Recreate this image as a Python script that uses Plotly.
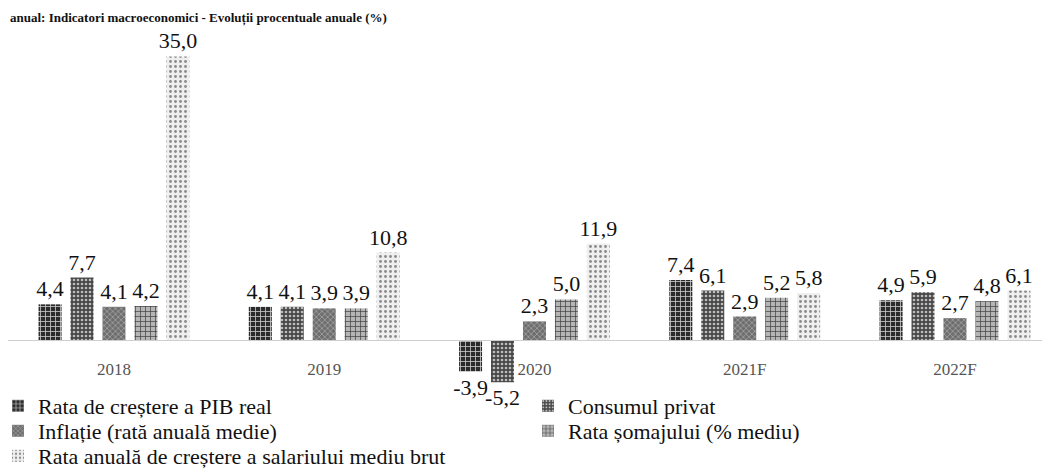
import plotly.graph_objects as go

years = ["2018", "2019", "2020", "2021F", "2022F"]
series_names = [
    "Rata de creștere a PIB real",
    "Consumul privat",
    "Inflație (rată anuală medie)",
    "Rata șomajului (% mediu)",
    "Rata anuală de creștere a salariului mediu brut",
]
pib = [4.4, 4.1, -3.9, 7.4, 4.9]
consum = [7.7, 4.1, -5.2, 6.1, 5.9]
inflatie = [4.1, 3.9, 2.3, 2.9, 2.7]
somaj = [4.2, 3.9, 5.0, 5.2, 4.8]
salariu = [35.0, 10.8, 11.9, 5.8, 6.1]
title_text = "anual: Indicatori macroeconomici - Evoluții procentuale anuale (%)"

all_series = [pib, consum, inflatie, somaj, salariu]
legend_ids = ["legend", "legend2", "legend3", "legend4", "legend5"]
styles = [
    dict(bg="#2b2b2b", fg="#c8c8c8", shape="+", size=5, solidity=0.3),
    dict(bg="#474747", fg="#bdbdbd", shape=".", size=4, solidity=0.35),
    dict(bg="#6e6e6e", fg="#b0b0b0", shape="x", size=4, solidity=0.3),
    dict(bg="#b5b5b5", fg="#3c3c3c", shape="+", size=5, solidity=0.25),
    dict(bg="#efefef", fg="#8a8a8a", shape=".", size=5, solidity=0.25),
]

def fmt(v):
    return f"{v:.1f}".replace(".", ",")

serif = "Liberation Serif, Times New Roman, serif"

W, H = 1042, 462
T, B = 46, 84
plot_h = H - T - B
zero_px = 332

ymax = 35.3
px_per_unit = (zero_px - T) / ymax
ymin = -(H - B - zero_px) / px_per_unit
zero_pos = (0 - ymin) / (ymax - ymin)

fig = go.Figure()
for name, vals, st, lg in zip(series_names, all_series, styles, legend_ids):
    fig.add_trace(go.Bar(
        x=years, y=vals, name=name, legend=lg,
        text=[fmt(v) for v in vals],
        textposition="outside",
        textfont=dict(family=serif, size=22, color="#111111"),
        constraintext="none",
        cliponaxis=False,
        marker=dict(
            color=st["bg"],
            line=dict(width=0),
            pattern=dict(shape=st["shape"], fgcolor=st["fg"], bgcolor=st["bg"],
                         size=st["size"], solidity=st["solidity"], fillmode="replace"),
        ),
    ))

def legend_at(x_px, row_y_px):
    return dict(
        orientation="h", x=x_px / W, xanchor="left",
        y=(H - B - row_y_px) / plot_h, yanchor="middle",
        font=dict(family=serif, size=22, color="#111111"),
        itemwidth=30, tracegroupgap=0,
        bgcolor="rgba(0,0,0,0)",
    )

fig.update_layout(
    width=W, height=H,
    margin=dict(l=0, r=0, t=T, b=B, autoexpand=False),
    paper_bgcolor="white", plot_bgcolor="white",
    barmode="group", bargap=0.24, bargroupgap=0.28,
    font=dict(family=serif, color="#111111"),
    showlegend=True,
    legend=legend_at(-10, 398),
    legend2=legend_at(520, 398),
    legend3=legend_at(-10, 423),
    legend4=legend_at(520, 423),
    legend5=legend_at(-10, 448),
    xaxis=dict(
        range=[-0.504, 4.452], anchor="free", position=zero_pos,
        showline=True, linecolor="#cfcfcf", linewidth=1,
        showgrid=False, ticks="", ticklabelstandoff=14,
        tickfont=dict(family=serif, size=17, color="#555555"),
    ),
    yaxis=dict(range=[ymin, ymax], visible=False, showgrid=False, zeroline=False),
    annotations=[dict(
        text="<b>" + title_text + "</b>", xref="paper", yref="paper",
        x=0.0, xanchor="left", y=1, yanchor="top", yshift=T,
        showarrow=False, font=dict(family=serif, size=13, color="#111111"),
    )],
)

fig.write_html("out.html")
